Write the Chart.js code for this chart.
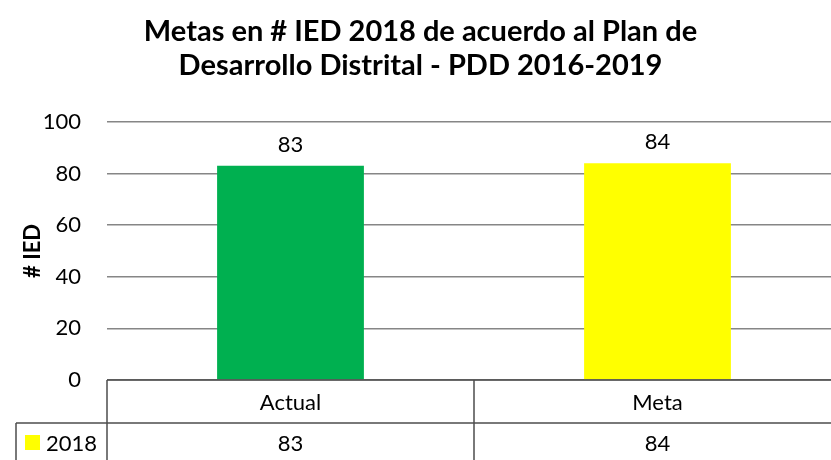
<!DOCTYPE html>
<html><head><meta charset="utf-8">
<script src="https://cdn.jsdelivr.net/npm/chart.js@4"></script>
<style>html,body{margin:0;padding:0;overflow:hidden;background:#fff}#wrap{width:845px;height:460px}</style>
</head><body><div id="wrap"><canvas id="c" width="845" height="460" style="width:845px;height:460px"></canvas></div>
<script>
const categories = ['Actual', 'Meta'];
const seriesName = '2018';
const values = [83, 84];
const barColors = ['#00B050', '#FFFF00'];
const legendColor = '#FFFF00';
const yTickValues = [0, 20, 40, 60, 80, 100];
const titleLines = ['Metas en # IED 2018 de acuerdo al Plan de', 'Desarrollo Distrital - PDD 2016-2019'];
const yTitle = '# IED';

const FONT = 'Lato';
const tickFont = {family: FONT, size: 22};

const tablePlugin = {
  id: 'tableAndLabels',
  afterDraw(chart) {
    const ctx = chart.ctx;
    const ca = chart.chartArea;
    const xs = chart.scales.x;
    ctx.save();
    const meta = chart.getDatasetMeta(0);
    ctx.font = `${tickFont.size}px ${FONT}`;
    ctx.fillStyle = '#000';
    ctx.textAlign = 'center';
    ctx.textBaseline = 'middle';
    meta.data.forEach((bar, i) => {
      ctx.fillText(String(values[i]), bar.x, bar.y - 21);
    });
    const top = ca.bottom;
    const r1 = top + 43;
    const bottom = chart.height + 10;
    const leftOuter = 16;
    ctx.strokeStyle = '#4d4d4d';
    ctx.lineWidth = 1.5;
    ctx.beginPath();
    ctx.moveTo(ca.left, top); ctx.lineTo(ca.right, top);
    ctx.moveTo(leftOuter, r1); ctx.lineTo(ca.right, r1);
    ctx.moveTo(ca.left, top); ctx.lineTo(ca.left, bottom);
    ctx.moveTo(leftOuter, r1); ctx.lineTo(leftOuter, bottom);
    for (let i = 0; i < categories.length; i++) {
      const edge = i < categories.length - 1 ? (xs.getPixelForValue(i) + xs.getPixelForValue(i + 1)) / 2 : ca.right;
      ctx.moveTo(edge, top); ctx.lineTo(edge, bottom);
    }
    ctx.stroke();
    ctx.fillStyle = '#000';
    categories.forEach((c, i) => {
      const x = xs.getPixelForValue(i);
      ctx.fillText(c, x, (top + r1) / 2 + 1);
      ctx.fillText(String(values[i]), x, r1 + 21);
    });
    ctx.fillStyle = legendColor;
    ctx.fillRect(25, r1 + 12, 15, 15);
    ctx.fillStyle = '#000';
    ctx.textAlign = 'left';
    ctx.fillText(seriesName, 46, r1 + 21);
    ctx.restore();
  }
};

new Chart(document.getElementById('c'), {
  type: 'bar',
  data: {
    labels: categories,
    datasets: [{label: seriesName, data: values, backgroundColor: barColors, barPercentage: 0.4, categoryPercentage: 1}]
  },
  options: {
    responsive: false,
    animation: false,
    layout: {padding: {left: 0, right: 4, top: 0, bottom: 0}},
    plugins: {
      legend: {display: false},
      tooltip: {enabled: false},
      title: {
        display: true,
        text: titleLines,
        color: '#000',
        font: {family: FONT, size: 29, weight: 'bold', lineHeight: 1.17},
        padding: {top: 15, bottom: 39}
      }
    },
    scales: {
      x: {
        grid: {display: false},
        border: {display: false},
        ticks: {display: false},
        afterFit(s) { s.height = 80; }
      },
      y: {
        min: 0, max: 100,
        afterBuildTicks(s) { s.ticks = yTickValues.map(v => ({value: v})); },
        grid: {color: '#868686', lineWidth: 1.5, drawTicks: false},
        border: {display: false},
        ticks: {color: '#000', font: tickFont, padding: 26},
        title: {display: true, text: yTitle, color: '#000', font: {family: FONT, size: 22, weight: 'bold'}, padding: {top: 20, bottom: 0}},
        afterFit(s) { s.width = 107; }
      }
    }
  },
  plugins: [tablePlugin]
});
</script>
</body></html>
